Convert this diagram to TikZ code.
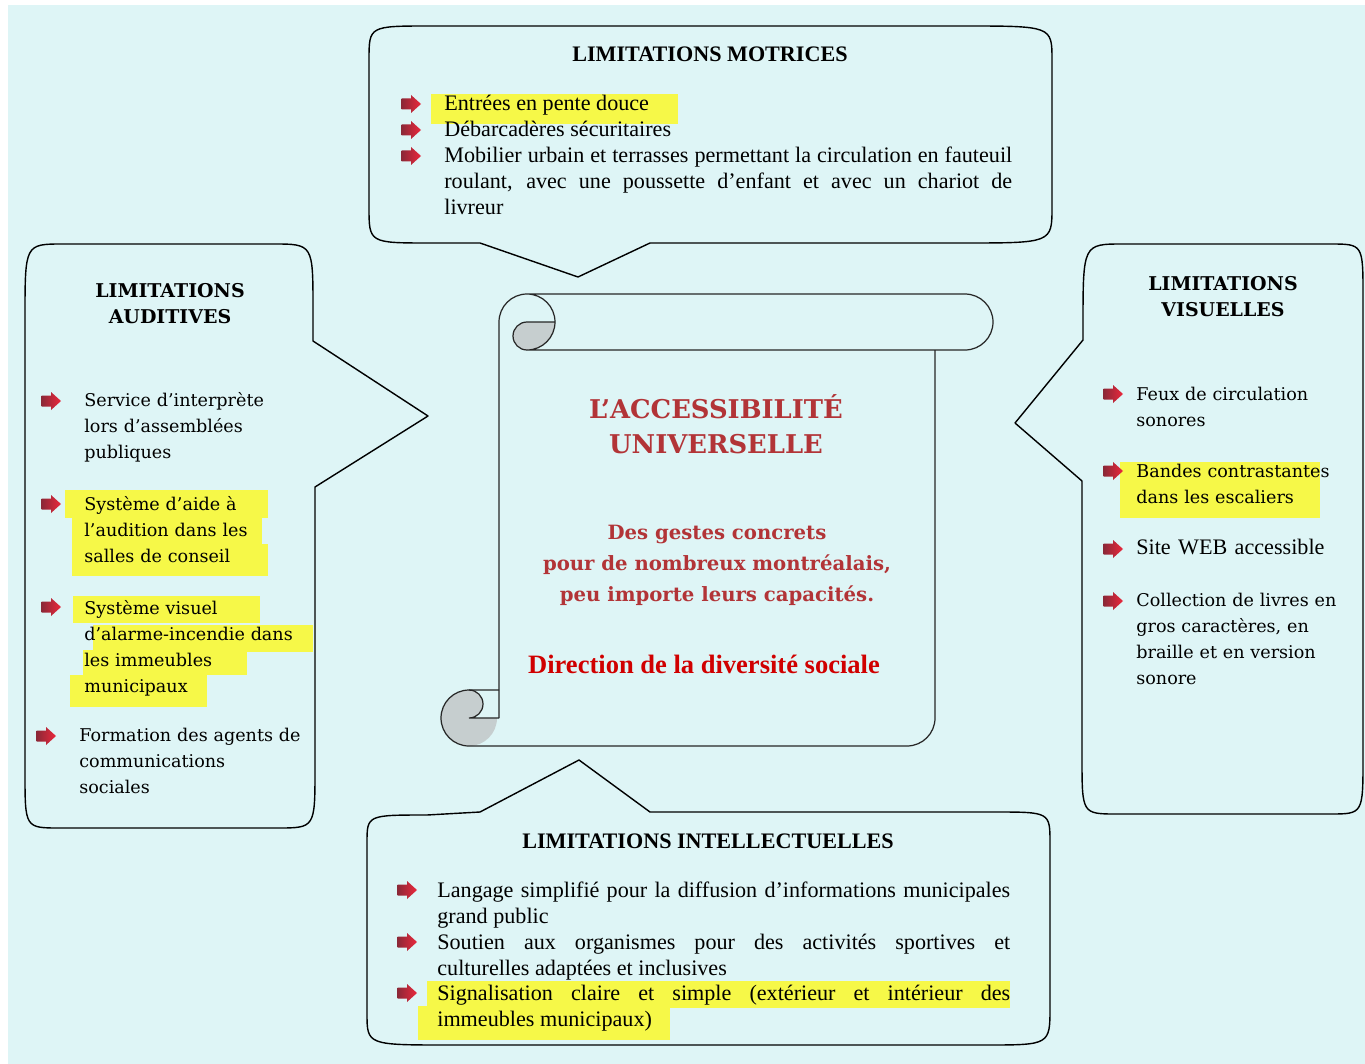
\documentclass[tikz,border=0pt]{standalone}
\usepackage{fontspec}
\setmainfont{Liberation Serif}
\newfontfamily\schoolfont{DejaVu Serif}
\definecolor{bgcyan}{RGB}{222,245,246}
\definecolor{hlyellow}{RGB}{246,248,72}
\definecolor{curlgray}{RGB}{198,206,207}
\definecolor{arrowred}{RGB}{235,40,60}
\definecolor{arrowdark}{RGB}{140,40,55}
\definecolor{titlered}{RGB}{178,52,55}
\definecolor{signred}{RGB}{208,0,0}
\tikzset{
  bubble/.style={draw=black, line width=0.8pt, line join=round},
  scroll/.style={draw=black!85, line width=0.7pt},
  hilite/.style={fill=hlyellow},
  boxtitle/.style={inner sep=0pt, font=\fontsize{12.6}{14.8}\selectfont\bfseries},
  bodytext/.style={anchor=north west, inner sep=0pt, align=justify, font=\fontsize{12.6}{14.8}\selectfont},
  sidetitle/.style={align=center, inner sep=0pt, font=\schoolfont\bfseries\fontsize{10.8}{14.8}\selectfont},
  sidetext/.style={anchor=north west, inner sep=0pt, align=left, text width=4.6cm, font=\schoolfont\fontsize{10}{14.8}\selectfont},
  redarrow/.pic={\shade[left color=arrowdark, right color=arrowred] (-9.5,-5.5) -- (0,-5.5) -- (0,-9) -- (10,0) -- (0,9) -- (0,5.5) -- (-9.5,5.5) -- cycle;}
}
\begin{document}
\begin{tikzpicture}[x=0.02cm, y=-0.02cm]
\useasboundingbox (0,0) rectangle (1365,1064);
\fill[white] (0,0) rectangle (1365,1064);
\fill[bgcyan] (8,5) rectangle (1365,1064);

% bubbles
\draw[bubble] (430,243) -- (480,243) -- (578,277) -- (650,243) -- (963,243) .. controls (1052,243) .. (1052,207) -- (1052,60) .. controls (1052,26) .. (963,26) -- (430,26) .. controls (369,26) .. (369,60) -- (369,207) .. controls (369,243) .. (430,243);
\draw[bubble] (313,341) -- (313,309) .. controls (313,244) .. (273,244) -- (63,244) .. controls (25,244) .. (25,317) -- (25,773) .. controls (25,828) .. (60,828) -- (277,828) .. controls (315,828) .. (315,769) -- (315,487) -- (428,416) -- cycle;
\draw[bubble] (1083,340) -- (1083,325) .. controls (1083,244) .. (1123,244) -- (1330,244) .. controls (1363,244) .. (1363,296) -- (1363,758) .. controls (1363,814) .. (1330,814) -- (1117,814) .. controls (1082,814) .. (1082,758) -- (1082,481) -- (1015,423) -- cycle;
\draw[bubble] (480,812) -- (579,760) -- (650,812) -- (994,812) .. controls (1050,812) .. (1050,843) -- (1050,1007) .. controls (1050,1045) .. (985,1045) -- (449,1045) .. controls (367,1045) .. (367,1013) -- (367,843) .. controls (367,815) .. (427,815) -- cycle;

% scroll
\fill[curlgray] (527,322) -- (555,322) arc[start angle=0, end angle=-90, radius=0.56cm] arc[start angle=-90, end angle=-270, radius=0.28cm];
\fill[curlgray] (469,718) circle[radius=0.56cm];
\fill[bgcyan] (469,690) arc[start angle=90, end angle=-90, radius=0.28cm] -- (499,718) -- (499,690) -- cycle;
\draw[scroll] (499,718) -- (499,322) arc[start angle=180, end angle=-90, radius=0.56cm] -- (965,350) arc[start angle=-90, end angle=90, radius=0.56cm] -- (527,294);
\draw[scroll] (555,322) -- (527,322) arc[start angle=90, end angle=270, radius=0.28cm];
\draw[scroll] (935,350) -- (935,718) arc[start angle=0, end angle=-90, radius=0.56cm] -- (469,746) arc[start angle=-90, end angle=-270, radius=0.56cm] -- (499,690);
\draw[scroll] (469,690) arc[start angle=90, end angle=-90, radius=0.28cm] -- (499,718);

% highlights
\fill[hilite] (431,94) rectangle (678,124);
\fill[hilite] (65,490) rectangle (268,518);
\fill[hilite] (72,518) rectangle (262,544);
\fill[hilite] (72,544) rectangle (268,576);
\fill[hilite] (73,596) rectangle (260,623);
\fill[hilite] (93,625) rectangle (313,652);
\fill[hilite] (83,650) rectangle (247,675);
\fill[hilite] (70,675) rectangle (207,707);
\fill[hilite] (1120,462) rectangle (1320,518);
\fill[hilite] (427,981) rectangle (1010,1008);
\fill[hilite] (418,1006) rectangle (670,1040);

% bullets
\foreach \y in {104,130,156} \pic at (411,\y) {redarrow};
\foreach \y in {401,504,607} \pic at (51,\y) {redarrow};
\pic at (46,736) {redarrow};
\foreach \y in {394,471,549,601} \pic at (1113,\y) {redarrow};
\foreach \y in {890,942,993} \pic at (407,\y) {redarrow};

% motrices
\node[boxtitle] (motTitle) at (710,54) {LIMITATIONS MOTRICES};
\node[bodytext, text width=11.36cm] (motEntrees) at (444,92) {\strut Entrées en pente douce};
\node[bodytext, text width=11.36cm] (motDebarc) at (444,118) {\strut Débarcadères sécuritaires};
\node[bodytext, text width=11.36cm] (motMobilier) at (444,144) {\strut Mobilier urbain et terrasses permettant la circulation en fauteuil\linebreak roulant, avec une poussette d’enfant et avec un chariot de\linebreak livreur};

% auditives
\node[sidetitle] (audTitle) at (170,304) {LIMITATIONS\\AUDITIVES};
\node[sidetext] (audService) at (84,388) {\strut Service d’interprète\\lors d’assemblées\\publiques};
\node[sidetext] (audAide) at (84,492) {\strut Système d’aide à\\l’audition dans les\\salles de conseil};
\node[sidetext] (audAlarme) at (84,596) {\strut Système visuel\\d’alarme-incendie dans\\les immeubles\\municipaux};
\node[sidetext] (audFormation) at (79,723) {\strut Formation des agents de\\communications\\sociales};

% visuelles
\node[sidetitle] (visTitle) at (1223,297) {LIMITATIONS\\VISUELLES};
\node[sidetext] (visFeux) at (1136,382) {\strut Feux de circulation\\sonores};
\node[sidetext] (visBandes) at (1136,459) {\strut Bandes contrastantes\\dans les escaliers};
\node[bodytext, align=left, text width=4.6cm] (visSite) at (1136,536) {\strut Site WEB accessible};
\node[sidetext] (visLivres) at (1136,588) {\strut Collection de livres en\\gros caractères, en\\braille et en version\\sonore};

% intellectuelles
\node[boxtitle] (intTitle) at (708,841) {LIMITATIONS INTELLECTUELLES};
\node[bodytext, text width=11.46cm] (intLangage) at (437,879) {\strut Langage simplifié pour la diffusion d’informations municipales\linebreak grand public};
\node[bodytext, text width=11.46cm] (intSoutien) at (437,931) {\strut Soutien aux organismes pour des activités sportives et\linebreak culturelles adaptées et inclusives};
\node[bodytext, text width=11.46cm] (intSignal) at (437,982) {\strut Signalisation claire et simple (extérieur et intérieur des\linebreak immeubles municipaux)};

% scroll texts
\node[align=center, inner sep=0pt, text=titlered, font=\schoolfont\bfseries\fontsize{14.7}{20}\selectfont] (scrollTitle) at (716,424) {L’ACCESSIBILITÉ\\UNIVERSELLE};
\node[align=center, inner sep=0pt, text=titlered, font=\schoolfont\bfseries\fontsize{11.2}{17.6}\selectfont] (scrollGestes) at (717,565) {Des gestes concrets\\pour de nombreux montréalais,\\peu importe leurs capacités.};
\node[inner sep=0pt, text=signred, font=\bfseries\fontsize{15.1}{18}\selectfont] (scrollDirection) at (704,664) {Direction de la diversité sociale};
\end{tikzpicture}
\end{document}
